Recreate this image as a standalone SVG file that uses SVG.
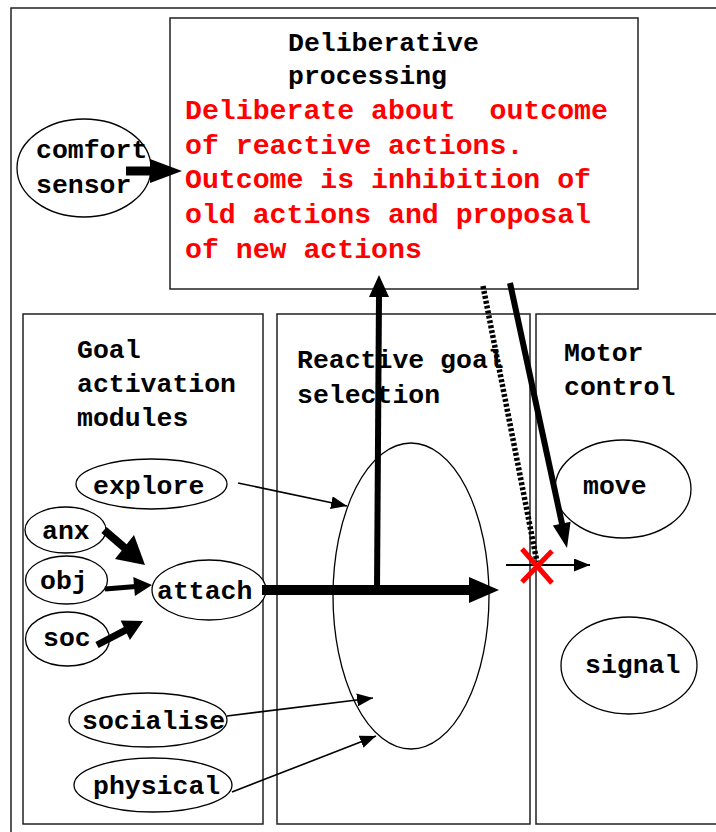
<svg xmlns="http://www.w3.org/2000/svg" width="716" height="832" viewBox="0 0 716 832">
<style>
.box{fill:#fff;stroke:#222;stroke-width:1.5}
.el{fill:#fff;stroke:#000;stroke-width:1.3}
.t{font-family:"Liberation Mono","Courier New",monospace;font-weight:bold;font-size:26.5px;fill:#000}
.r{font-family:"Liberation Mono","Courier New",monospace;font-weight:bold;font-size:28.2px;fill:#f00}
.thin{stroke:#000;stroke-width:1.6;fill:none;marker-end:url(#ah)}
.thick{stroke:#000;fill:none}
.head{fill:#000}
</style>
<defs>
<marker id="ah" markerUnits="userSpaceOnUse" markerWidth="17" markerHeight="13" refX="16" refY="6.5" orient="auto">
<path d="M0,0 L16,6.5 L0,13 Z" fill="#000"/>
</marker>
</defs>
<rect width="716" height="832" fill="#fff"/>
<rect x="11" y="8" width="720" height="830" fill="none" stroke="#222" stroke-width="1.5"/>

<g id="deliberative">
<rect class="box" x="170" y="18" width="468" height="271"/>
<text class="t" x="288" y="51">Deliberative</text>
<text class="t" x="288" y="84">processing</text>
<text class="r" x="185" y="119" xml:space="preserve">Deliberate about  outcome</text>
<text class="r" x="185" y="154">of reactive actions.</text>
<text class="r" x="185" y="188">Outcome is inhibition of</text>
<text class="r" x="185" y="223">old actions and proposal</text>
<text class="r" x="185" y="258">of new actions</text>
</g>

<g id="comfort-sensor">
<ellipse class="el" cx="84" cy="168" rx="67" ry="49"/>
<text class="t" x="36" y="158">comfort</text>
<text class="t" x="36" y="193">sensor</text>
</g>

<g id="goal-activation">
<rect class="box" x="23" y="314" width="240" height="510"/>
<text class="t" x="77" y="358">Goal</text>
<text class="t" x="77" y="392">activation</text>
<text class="t" x="77" y="426">modules</text>
</g>

<g id="reactive-goal">
<rect class="box" x="277" y="314" width="253" height="510"/>
<text class="t" x="297" y="368">Reactive goal</text>
<text class="t" x="297" y="403">selection</text>
</g>

<g id="motor-control">
<rect class="box" x="536" y="314" width="185" height="510"/>
<text class="t" x="564" y="361">Motor</text>
<text class="t" x="564" y="395">control</text>
</g>

<g id="selector">
<ellipse class="el" cx="411" cy="596" rx="78" ry="153"/>
</g>

<g id="explore">
<ellipse class="el" cx="151.5" cy="484" rx="75.5" ry="25"/>
<text class="t" x="93" y="494">explore</text>
</g>
<g id="anx">
<ellipse class="el" cx="65.5" cy="530" rx="40.5" ry="23"/>
<text class="t" x="42" y="539">anx</text>
</g>
<g id="obj">
<ellipse class="el" cx="66.5" cy="580" rx="41" ry="24"/>
<text class="t" x="40" y="589">obj</text>
</g>
<g id="soc">
<ellipse class="el" cx="67.5" cy="639" rx="42" ry="27"/>
<text class="t" x="43" y="646">soc</text>
</g>
<g id="attach">
<ellipse class="el" cx="209" cy="590" rx="57" ry="30"/>
<text class="t" x="157" y="599">attach</text>
</g>
<g id="socialise">
<ellipse class="el" cx="148" cy="720" rx="79" ry="27"/>
<text class="t" x="82" y="729">socialise</text>
</g>
<g id="physical">
<ellipse class="el" cx="153" cy="785" rx="79" ry="27"/>
<text class="t" x="93" y="794">physical</text>
</g>
<g id="move">
<ellipse class="el" cx="623" cy="489" rx="68" ry="49"/>
<text class="t" x="583" y="494">move</text>
</g>
<g id="signal">
<ellipse class="el" cx="629" cy="665.5" rx="68" ry="48.5"/>
<text class="t" x="585" y="673">signal</text>
</g>

<g id="connectors">
<line class="thick" x1="126" y1="171" x2="152" y2="171" stroke-width="9"/>
<polygon class="head" points="150,159 182,171 150,183"/>

<line class="thin" x1="238" y1="483" x2="347" y2="506"/>
<line class="thin" x1="227" y1="716" x2="373" y2="698"/>
<line class="thin" x1="232" y1="792" x2="376" y2="736"/>

<line class="thick" x1="104" y1="530" x2="126" y2="549" stroke-width="8"/>
<polygon class="head" points="115,559 145,565 134,535"/>

<line class="thick" x1="105" y1="589" x2="136" y2="586.4" stroke-width="5"/>
<polygon class="head" points="134.9,596 152,585 133.3,577"/>

<line class="thick" x1="97" y1="645" x2="127" y2="629.3" stroke-width="7"/>
<polygon class="head" points="129.9,640 143,621 120.7,620.5"/>

<line class="thick" x1="262" y1="590" x2="471" y2="590" stroke-width="10"/>
<polygon class="head" points="469,577 499,590 469,603"/>

<line class="thick" x1="377" y1="590" x2="379" y2="295" stroke-width="6"/>
<polygon class="head" points="369,297 379,275 389,297"/>

<line class="thick" x1="483" y1="286" x2="537" y2="562" stroke-width="5.5" stroke-dasharray="3 2"/>

<line class="thick" x1="510" y1="283" x2="562.5" y2="526" stroke-width="6"/>
<polygon class="head" points="552.9,525.5 567,548 570.6,521.7"/>

<line x1="506" y1="565" x2="590" y2="565" stroke="#000" stroke-width="2" marker-end="url(#ah)"/>

<g stroke="#f00" stroke-width="5">
<line x1="522" y1="549" x2="552" y2="583"/>
<line x1="552" y1="551" x2="522" y2="582"/>
</g>
</g>
</svg>
